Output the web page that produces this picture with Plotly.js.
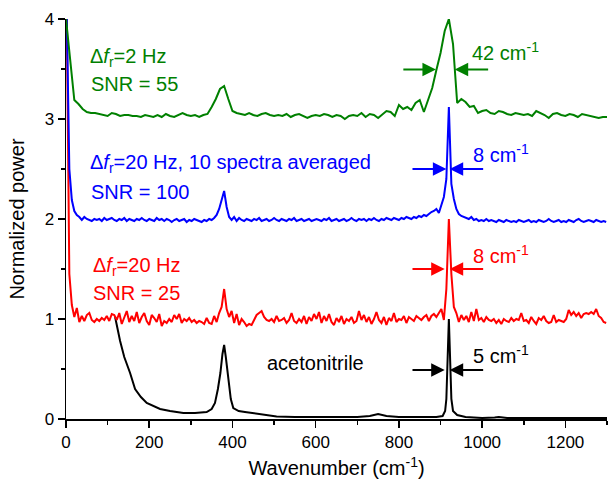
<!DOCTYPE html>
<html>
<head>
<meta charset="utf-8">
<script src="https://cdn.plot.ly/plotly-3.0.1.min.js"></script>
<style>html,body{margin:0;padding:0;background:#fff;}#chart{width:610px;height:479px;}</style>
</head>
<body>
<div id="chart"></div>
<script>
// Red: Δf_r = 20 Hz (x = 2 + 6*i)
const redStart = 2, redStep = 6;
const redY = [
4.0,1.45,1.14,1.02,1.11,0.97,1.03,0.98,1.04,1.06,
0.99,0.97,1.00,0.98,1.01,0.99,1.03,0.98,1.05,1.04,
0.99,1.06,0.95,1.02,1.08,0.97,1.03,0.98,1.07,0.96,
1.02,1.06,0.98,0.94,1.04,1.01,0.97,1.05,0.93,0.98,
0.96,1.00,0.97,1.04,1.00,1.05,0.96,1.00,0.98,1.01,
0.97,0.99,0.96,0.98,0.97,0.95,1.01,0.96,0.95,1.03,
0.97,1.06,1.12,1.30,1.10,1.02,1.08,0.96,1.05,0.94,
1.00,0.97,0.93,0.95,0.94,0.99,1.04,1.06,1.08,1.02,
0.99,0.98,1.00,0.97,1.03,0.98,0.99,1.01,0.96,0.99,
1.06,0.98,0.96,1.00,0.97,1.03,0.95,1.02,0.98,1.05,
1.00,1.07,0.96,1.03,0.98,1.05,0.97,0.94,1.01,0.97,
1.03,0.95,1.00,0.98,1.02,0.96,0.98,1.08,0.99,1.04,
0.97,1.02,0.95,1.00,1.07,0.99,0.96,1.02,0.94,1.01,
0.98,1.06,0.97,1.00,0.99,1.03,0.96,1.02,1.00,0.98,
1.03,1.01,0.99,1.02,1.04,0.98,1.03,1.05,1.02,1.06,
1.10,0.99,1.30,2.00,1.45,1.12,1.06,0.97,1.04,0.99,
1.03,0.97,1.07,0.98,1.10,0.99,1.01,0.97,1.02,0.99,
0.98,1.00,0.96,0.99,0.95,1.00,0.98,0.97,1.01,0.98,
1.00,0.99,1.06,0.98,0.99,0.96,1.02,0.98,0.95,1.01,
0.99,1.03,0.98,0.96,0.97,1.04,0.97,0.99,0.98,0.97,
1.00,1.09,1.04,1.07,1.03,1.06,1.01,1.05,1.06,1.05,
1.07,1.05,1.10,1.03,1.01,0.97,0.96
];

// Blue: Δf_r = 20 Hz, 10 spectra averaged (x = 2 + 6*i)
const blueStart = 2, blueStep = 6;
const blueY = [
4.0,2.50,2.19,2.08,2.04,2.02,1.99,2.02,2.00,1.99,
1.98,2.00,1.99,2.00,1.98,2.01,1.99,2.00,2.01,1.99,
1.98,2.00,1.99,2.01,1.98,2.00,1.99,1.98,2.00,1.99,
2.01,1.99,1.98,2.00,1.99,1.98,2.01,1.99,2.00,1.98,
2.00,1.99,1.97,1.99,2.00,1.98,1.99,2.00,1.97,1.99,
1.98,2.00,1.99,1.98,1.97,1.99,1.98,2.00,1.99,2.01,
2.04,2.10,2.18,2.28,2.12,2.02,1.99,2.02,1.98,2.01,
1.99,1.98,2.00,1.99,1.98,2.00,1.99,2.01,1.98,1.99,
2.00,1.98,1.99,2.01,1.99,1.98,2.00,1.99,1.98,2.00,
1.99,2.01,1.98,1.99,2.00,1.98,1.99,2.00,1.98,1.99,
2.00,1.99,1.98,2.00,1.99,2.01,1.98,1.99,2.00,1.98,
1.99,2.00,1.98,1.99,2.01,1.99,1.98,2.00,1.99,2.00,
1.98,2.00,1.99,2.01,1.99,1.98,2.00,1.99,2.01,2.00,
1.99,2.01,2.00,1.99,2.01,2.00,2.02,2.01,2.00,2.02,
2.01,2.03,2.02,2.04,2.03,2.05,2.07,2.08,2.10,2.06,
2.15,2.22,2.40,3.12,2.35,2.20,2.10,2.05,2.03,2.02,
2.01,2.00,2.02,1.99,2.00,1.98,1.99,1.98,2.00,1.98,
1.99,1.98,1.97,1.99,1.98,1.97,1.99,1.98,1.97,1.98,
1.97,1.99,1.98,1.97,1.98,1.99,1.97,1.98,1.97,1.99,
1.98,1.97,1.98,2.00,1.98,1.97,1.98,1.99,1.97,1.98,
1.97,1.99,1.98,1.97,1.99,2.00,1.98,1.97,1.98,1.99,
1.98,1.97,1.99,1.98,1.97,1.98,1.97
];

// Green: Δf_r = 2 Hz (x = 10*i)
const greenStart = 0, greenStep = 10;
const greenY = [
4.00,3.60,3.19,3.15,3.10,3.07,3.06,3.06,3.05,3.04,
3.03,3.06,3.05,3.03,3.04,3.04,3.03,3.03,3.02,3.04,
3.03,3.02,3.04,3.02,3.05,3.03,3.02,3.04,3.06,3.04,
3.03,3.04,3.02,3.04,3.05,3.12,3.20,3.30,3.33,3.20,
3.08,3.06,3.05,3.04,3.06,3.04,3.03,3.05,3.06,3.04,
3.03,3.04,3.03,3.05,3.02,3.04,3.05,3.03,3.01,3.03,
3.04,3.03,3.05,3.04,3.02,3.04,3.03,3.00,3.03,3.04,
3.03,3.06,3.02,3.05,3.04,3.01,3.05,3.08,3.07,3.03,
3.14,3.10,3.12,3.09,3.16,3.19,3.07,3.20,3.31,3.49,
3.66,3.88,4.00,3.75,3.16,3.20,3.17,3.12,3.13,3.06,
3.08,3.09,3.06,3.05,3.08,3.07,3.05,3.04,3.06,3.05,
3.04,3.05,3.03,3.08,3.06,3.04,3.01,3.05,3.06,3.04,
3.03,3.05,3.04,3.02,3.05,3.04,3.03,3.02,3.01,3.02,
3.02
];

// Black: acetonitrile reference
const blackX = [118,122,130,140,154,166,180,194,210,226,250,282,310,338,350,358,365,371,376,380,384,390,396,402,415,430,450,480,506,550,600,650,700,730,750,770,800,850,890,905,911,914,917,920,923,926,930,940,960,1000,1030,1040,1060,1100,1200,1300];
const blackY = [1.02,0.94,0.78,0.62,0.46,0.30,0.22,0.16,0.13,0.10,0.08,0.06,0.06,0.07,0.10,0.16,0.30,0.46,0.65,0.74,0.62,0.40,0.20,0.11,0.08,0.07,0.06,0.04,0.025,0.02,0.02,0.02,0.02,0.03,0.05,0.03,0.02,0.02,0.02,0.03,0.08,0.20,0.60,1.00,0.60,0.20,0.08,0.04,0.02,0.01,0.015,0.02,0.01,0.01,0.01,0.01];

const GREEN = 'rgb(0,128,0)', BLUE = 'rgb(0,0,255)', RED = 'rgb(255,0,0)', BLACK = 'rgb(0,0,0)';
const FONT = 'Liberation Sans, Arial, sans-serif';

const traces = [
  {x: blackX, y: blackY, mode: 'lines', line: {color: BLACK, width: 2}},
  {y: redY, x0: redStart, dx: redStep, mode: 'lines', line: {color: RED, width: 2}},
  {y: blueY, x0: blueStart, dx: blueStep, mode: 'lines', line: {color: BLUE, width: 2}},
  {y: greenY, x0: greenStart, dx: greenStep, mode: 'lines', line: {color: GREEN, width: 2}}
];

function label(x, y, text, color) {
  return {x: x, y: y, xref: 'x', yref: 'y', text: text, showarrow: false,
          xanchor: 'left', yanchor: 'middle', font: {family: FONT, size: 20, color: color}};
}
function arrow(xHead, xTail, y, color) {
  return {x: xHead, y: y, ax: xTail, ay: y, xref: 'x', yref: 'y', axref: 'x', ayref: 'y',
          text: '', showarrow: true, arrowhead: 2, arrowsize: 1.5, arrowwidth: 1.8,
          arrowcolor: color, standoff: 0, startstandoff: 0};
}

const annotations = [
  label(54, 3.62, 'Δ<i>f</i><sub>r</sub>=2 Hz', GREEN),
  label(56, 3.355, 'SNR = 55', GREEN),
  label(54, 2.56, 'Δ<i>f</i><sub>r</sub>=20 Hz, 10 spectra averaged', BLUE),
  label(56, 2.27, 'SNR = 100', BLUE),
  label(60, 1.53, 'Δ<i>f</i><sub>r</sub>=20 Hz', RED),
  label(60, 1.26, 'SNR = 25', RED),
  label(478, 0.56, 'acetonitrile', BLACK),
  label(970, 3.68, '42 cm<sup>-1</sup>', GREEN),
  label(973, 2.66, '8 cm<sup>-1</sup>', BLUE),
  label(973, 1.65, '8 cm<sup>-1</sup>', RED),
  label(973, 0.65, '5 cm<sup>-1</sup>', BLACK),
  arrow(889, 807, 3.495, GREEN), arrow(934, 1018, 3.495, GREEN),
  arrow(914, 829, 2.50, BLUE), arrow(922, 1006, 2.50, BLUE),
  arrow(910, 829, 1.50, RED), arrow(922, 1006, 1.50, RED),
  arrow(910, 829, 0.49, BLACK), arrow(922, 1006, 0.49, BLACK)
];

const layout = {
  width: 610, height: 479,
  margin: {l: 66, r: 3, t: 19, b: 60},
  paper_bgcolor: '#fff', plot_bgcolor: '#fff',
  showlegend: false,
  font: {family: FONT, size: 17, color: '#000'},
  xaxis: {
    range: [0, 1300], showgrid: false, zeroline: false,
    showline: true, linecolor: '#000', linewidth: 1.5,
    ticks: 'outside', ticklen: 7, tickwidth: 1.5, tickcolor: '#000',
    tick0: 0, dtick: 200,
    minor: {dtick: 100, ticks: 'outside', ticklen: 4, tickwidth: 1.5, tickcolor: '#000', showgrid: false},
    tickfont: {family: FONT, size: 17, color: '#000'},
    title: {text: 'Wavenumber (cm<sup>-1</sup>)', font: {family: FONT, size: 20, color: '#000'}, standoff: 10}
  },
  yaxis: {
    range: [0, 4], showgrid: false, zeroline: false,
    showline: true, linecolor: '#000', linewidth: 1.5,
    ticks: 'outside', ticklen: 7, tickwidth: 1.5, tickcolor: '#000',
    tick0: 0, dtick: 1,
    minor: {dtick: 0.5, ticks: 'outside', ticklen: 4, tickwidth: 1.5, tickcolor: '#000', showgrid: false},
    tickfont: {family: FONT, size: 17, color: '#000'},
    title: {text: 'Normalized power', font: {family: FONT, size: 20, color: '#000'}, standoff: 14}
  },
  annotations: annotations
};

Plotly.newPlot('chart', traces, layout, {displayModeBar: false, staticPlot: true});
</script>
</body>
</html>
